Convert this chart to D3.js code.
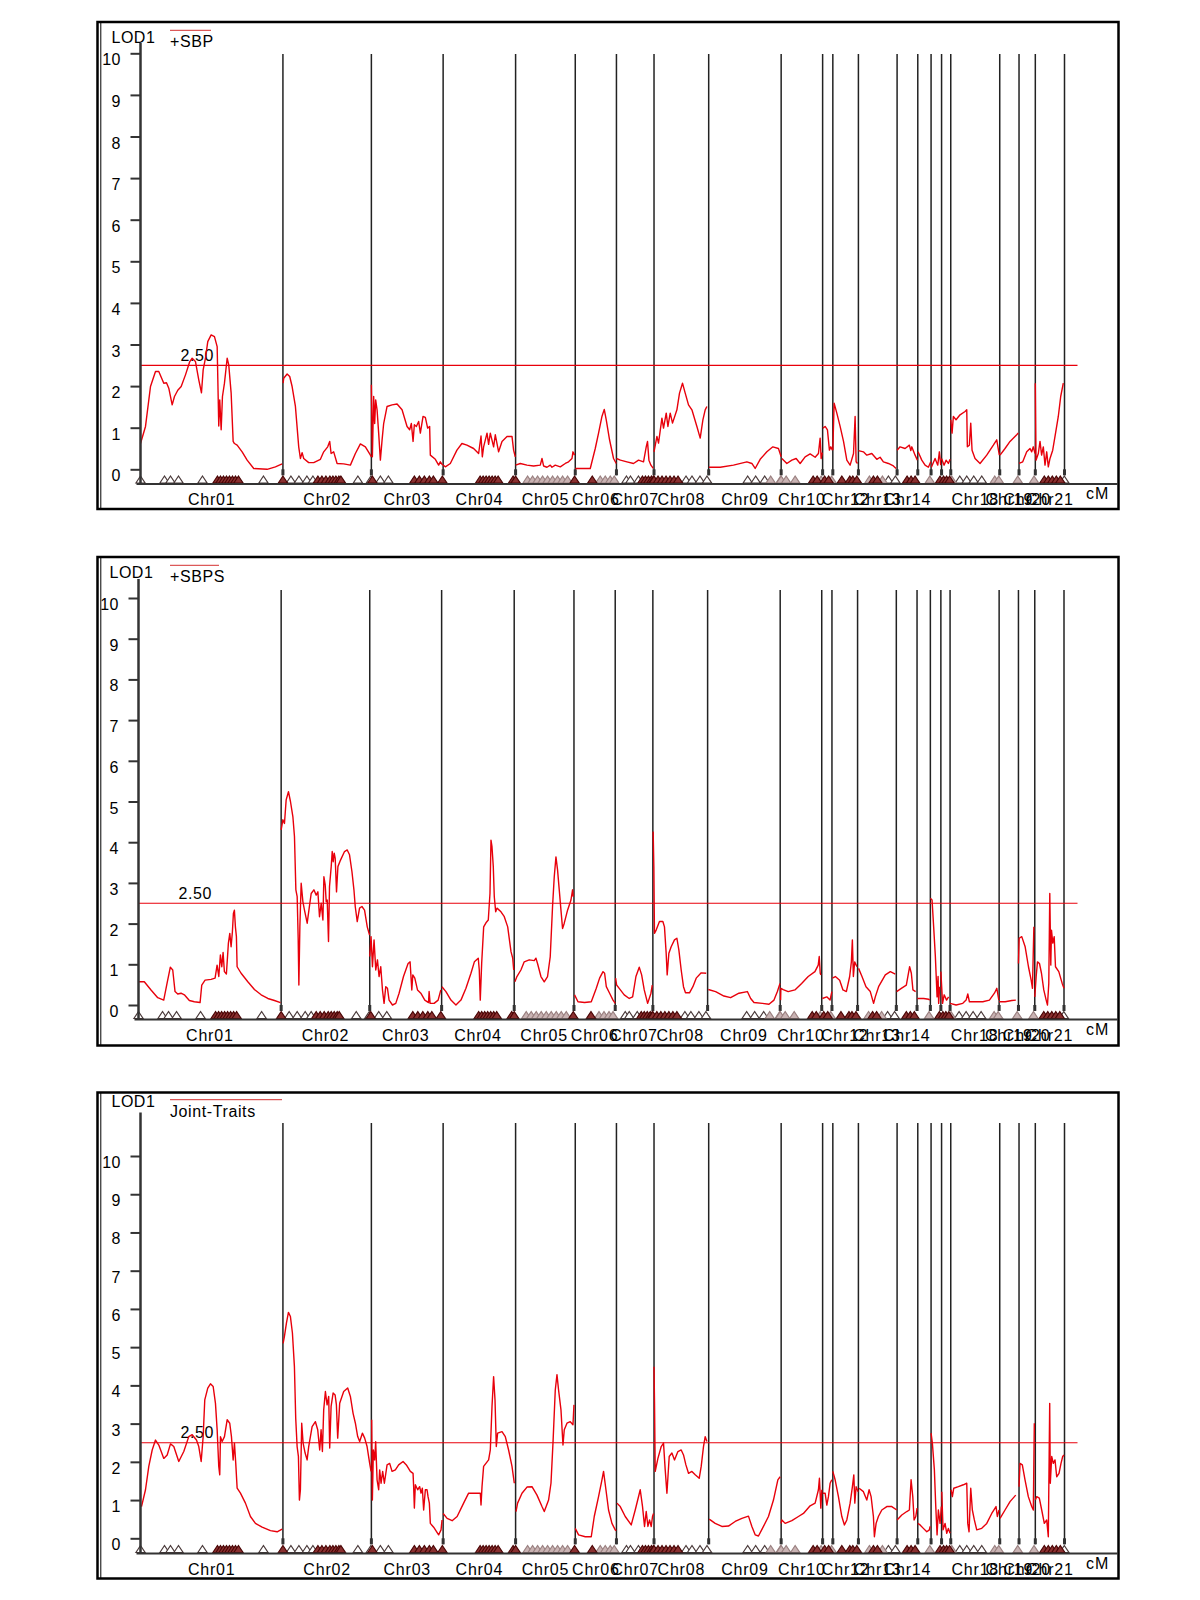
<!DOCTYPE html>
<html>
<head>
<meta charset="utf-8">
<script src="https://cdn.jsdelivr.net/npm/d3@7"></script>
<style>
  body { margin: 0; background: #fff; }
  text { font-family: "Liberation Sans", Arial, sans-serif; fill: #000; }
</style>
</head>
<body>
<svg id="vis-svg" width="1200" height="1600"></svg>
<script>
// chromosome map (cM)
const chromosomes = ['Chr01','Chr02','Chr03','Chr04','Chr05','Chr06','Chr07','Chr08','Chr09','Chr10',
  'Chr11','Chr12','Chr13','Chr14','Chr15','Chr16','Chr17','Chr18','Chr19','Chr20','Chr21'];
const chrLengths = [142.5, 88.5, 71.8, 72.5, 59.7, 41.2, 37.6, 54.7, 72.5, 41.5,
  10.2, 25.6, 38.7, 20.7, 13.3, 10.5, 9.2, 49.0, 19.3, 16.3, 29.2];
// labels the program actually printed (the crowded ones were skipped)
const shownLabels = ['Chr01','Chr02','Chr03','Chr04','Chr05','Chr06','Chr07','Chr08','Chr09','Chr10',
  'Chr12','Chr13','Chr14','Chr18','Chr19','Chr20','Chr21'];
const yTicks = [0, 1, 2, 3, 4, 5, 6, 7, 8, 9, 10];
const threshold = 2.5;

// marker positions [chromosome index, cM]
const markersOpen = [[0,0],[0,24],[0,30],[0,38],[0,62],[0,123],[1,8],[1,16],[1,24],[1,30],[1,75],[1,88],
  [2,9],[2,17],[6,10],[6,14],[6,22],[7,32],[7,38],[7,46],[7,53],[8,39],[8,47],[8,56],[12,30],[12,37],
  [17,9],[17,16],[17,23],[17,31],[20,29]];
const markersDark = [[0,77],[0,80],[0,83],[0,86],[0,89],[0,92],[0,95],[0,98],
  [1,0],[1,35],[1,39],[1,43],[1,47],[1,50],[1,53],[1,56],[1,58],
  [2,1],[2,43],[2,48],[2,53],[2,58],[2,62],[2,71],
  [3,37],[3,40],[3,43],[3,46],[3,49],[3,52],[3,55],[3,70],
  [4,0],[4,59],[5,17],[6,26],[6,29],[6,32],[6,35],[6,37],
  [7,0],[7,4],[7,8],[7,12],[7,16],[7,20],[7,24],[9,32],[9,36],[10,2],[10,6],
  [11,9],[11,17],[11,20],[11,24],[12,15],[12,19],[13,10],[13,14],[13,18],[15,9],
  [16,2],[16,5],[16,8],[20,9],[20,13],[20,17],[20,21],[20,25]];
const markersGray = [[4,12],[4,17],[4,22],[4,27],[4,32],[4,37],[4,42],[4,47],[4,52],
  [5,25],[5,30],[5,35],[5,39],[8,62],[8,72],[9,0],[9,5],[9,14],[9,40],[10,9],
  [12,11],[12,24],[14,12],[17,1],[17,44],[17,48],[18,18],[19,15]];

// LOD profiles, one list of [cM, LOD] per chromosome
const lodSBP = [
  [[0,0.62],[5,1.03],[10,1.99],[15,2.35],[18.3,2.35],[23.3,2.07],[26,2.08],[28.3,1.95],[31.7,1.55],[34,1.75],[37.3,1.9],[40.7,1.99],[45,2.27],[49.3,2.59],[51.7,2.67],[55,2.59],[58.3,2.15],[61,1.84],[62.7,2.39],[65,2.67],[67.3,3.07],[70.7,3.23],[74,3.19],[76.7,2.95],[78.3,1.04],[79.3,1.67],[80.7,0.95],[82,1.75],[84,2.07],[86.7,2.67],[88.3,2.51],[90.7,1.83],[92.7,0.67],[94,0.62],[96.7,0.58],[101.7,0.42],[106.7,0.22],[113.3,0.02],[126.7,0],[135,0.06],[141.7,0.13]],
  [[0.2,2.07],[0.8,2.19],[4.2,2.29],[6.8,2.23],[9.2,1.99],[12.5,1.51],[15.8,0.54],[17.5,0.26],[19.2,0.4],[20.8,0.26],[25.8,0.16],[30.8,0.16],[37.5,0.24],[40.8,0.42],[44.8,0.54],[46.8,0.67],[48.2,0.38],[50.8,0.42],[54.2,0.14],[60.8,0.13],[67.5,0.1],[72.5,0.38],[77.5,0.61],[82.5,0.54],[86.8,0.37],[88.5,0.3]],
  [[0,2.03],[1,0.3],[2.3,1.75],[3.3,1.1],[4.3,1.67],[5.7,1.43],[7.3,0.87],[9,0.22],[10.7,0.7],[12.3,1.1],[15.7,1.51],[20.7,1.55],[25.7,1.57],[30.7,1.43],[35.7,1.03],[38.3,0.95],[40,1.1],[41.7,0.67],[43,1.07],[45,1.03],[47.3,1.15],[49,0.87],[51.7,1.27],[54,1.25],[56.3,0.99],[58.3,1.03],[59,0.34],[64,0.24],[67.3,0.1],[69,0.18],[71.3,0.1]],
  [[0,0.1],[2.2,0.06],[7.2,0.14],[13.8,0.46],[18.8,0.62],[23.8,0.58],[30.5,0.5],[35.5,0.38],[37.9,0.8],[39.2,0.3],[40.5,0.54],[43.9,0.87],[45.5,0.6],[47.2,0.87],[50.5,0.54],[52.2,0.83],[55.5,0.42],[58.9,0.67],[63.9,0.79],[68.9,0.79],[70.5,0.46],[72.2,0.3]],
  [[0,0.1],[4.7,0.14],[11.4,0.1],[18,0.08],[24.7,0.1],[26.4,0.26],[28,0.08],[31.4,0.05],[34.7,0.1],[36.4,0.05],[39.7,0.1],[44.7,0.06],[49.7,0.14],[53,0.18],[56.4,0.26],[57.4,0.42],[59,0.34]],
  [[0,0.02],[15,0.02],[20,0.5],[23.3,0.87],[26.7,1.27],[29,1.44],[31,1.19],[34.3,0.71],[38.3,0.26],[41,0.14]],
  [[0,0.26],[4,0.22],[10.5,0.18],[17.1,0.14],[22.1,0.22],[27.1,0.18],[29.8,0.54],[31.1,0.67],[32.5,0.22],[34.5,0.1],[36.8,0.02]],
  [[0,0.42],[2.9,0.79],[4.5,0.63],[7.9,1.23],[9.5,0.99],[12.2,1.35],[13.9,1.03],[16.2,1.35],[18.5,1.11],[22.9,1.43],[25.5,1.83],[28.5,2.07],[31.2,1.83],[34.5,1.55],[37.9,1.43],[42.9,1.03],[46.2,0.75],[48.9,1.19],[51.2,1.43],[52.9,1.51]],
  [[0.2,0.05],[11.5,0.05],[24.8,0.1],[38.2,0.18],[43.2,0.14],[46.5,0.02],[51.5,0.24],[58.2,0.42],[64.2,0.54],[69.8,0.5],[72.5,0.3]],
  [[0.7,0.26],[5.7,0.14],[10.7,0.22],[15,0.26],[19,0.14],[24,0.3],[29,0.37],[34,0.29],[37.3,0.38],[39,0.75],[40,0.26],[41.2,0.4]],
  [[0.2,0.99],[2.5,1.03],[4.8,0.95],[6.8,0.46],[8.2,0.54],[9.8,0.46]],
  [[0,0.46],[1.3,1.59],[4,1.35],[7.3,1.03],[10.7,0.67],[14,0.22],[17.3,0.1],[20.7,0.38],[22.3,1.27],[23.3,0.18],[24.7,0.14]],
  [[0,0.45],[5,0.42],[8.4,0.34],[13.4,0.38],[18.4,0.24],[21.7,0.29],[25,0.18],[30,0.14],[35,0.08],[37.7,0.02]],
  [[0,0.46],[3,0.54],[8,0.5],[12.3,0.58],[13.7,0.45],[14.7,0.54],[18,0.34],[20.3,0.22]],
  [[0.3,0.42],[4,0.22],[7.3,0.1],[10.6,0.05],[13,0.18]],
  [[0.3,0.05],[4,0.26],[6.7,0.1],[8.3,0.42],[9.7,0.1]],
  [[0,0.26],[2.5,0.1],[4.5,0.22],[6.8,0.14],[8.5,0.24]],
  [[0,1.19],[1.3,0.87],[2.6,1.27],[5.3,1.19],[9.3,1.31],[14.3,1.39],[16,1.43],[16.6,0.54],[18.6,0.58],[20,1.11],[21.3,0.46],[24.3,0.26],[29.3,0.14],[36,0.34],[42.6,0.58],[46,0.71],[48.6,0.34]],
  [[0.3,0.34],[5.3,0.5],[10.3,0.67],[17,0.83],[18.6,0.87]],
  [[0,0.14],[3.7,0.18],[7.7,0.42],[11,0.5],[12.7,0.42],[14.3,0.54],[16,0.38]],
  [[0,2.07],[0.7,0.22],[3,0.38],[4.7,0.67],[6.3,0.34],[8,0.54],[9.7,0.1],[11.4,0.42],[13,0.06],[14.7,0.26],[17.4,0.46],[19.7,0.79],[23,1.27],[25.4,1.75],[28,2.07]]
];

const lodSBPS = [
  [[0,0.57],[5.8,0.57],[12.5,0.37],[19.2,0.18],[25.2,0.12],[28.5,0.53],[31.8,0.93],[34.2,0.86],[36.5,0.33],[39.2,0.27],[42.5,0.29],[45.8,0.25],[50.8,0.11],[55.8,0.08],[61.5,0.06],[63.2,0.49],[66.5,0.61],[72.5,0.63],[76.5,0.66],[78.5,0.98],[80.2,0.7],[81.8,1.23],[83.2,0.94],[84.5,1.29],[85.8,0.82],[87.8,0.76],[89.8,1.52],[91.2,1.76],[92.5,1.43],[93.8,1.8],[94.8,2.25],[95.8,2.33],[96.8,1.92],[97.8,1.68],[98.5,0.94],[102.5,0.78],[109.2,0.57],[115.8,0.38],[122.5,0.25],[129.2,0.16],[135.8,0.11],[141.8,0.06]],
  [[0,4.3],[1.7,4.55],[3.3,4.46],[5,5.04],[7.3,5.24],[9.3,5.0],[11.7,4.63],[13.3,4.14],[14.7,2.83],[16,2.66],[17,1.64],[17.7,0.49],[18.7,1.92],[20,2.99],[21.7,2.54],[23.3,2.33],[26,2.01],[28,2.38],[30,2.74],[32.7,2.83],[35,2.7],[36.7,2.78],[38.3,2.17],[40,2.5],[41.7,2.09],[42.7,3.15],[44,2.95],[45,2.54],[46,2.58],[47.3,1.56],[48.3,2.91],[50,3.4],[51,3.77],[52,3.52],[53,3.73],[54,3.6],[55.3,2.78],[56.7,3.4],[59.3,3.56],[63.3,3.77],[66,3.81],[68.3,3.69],[70.7,3.28],[72.7,2.83],[74,2.42],[76,2.05],[78.3,2.38],[80.7,2.42],[83.3,2.33],[86,1.92],[88.3,1.72]],
  [[0,1.19],[1.3,1.68],[2.7,0.94],[4.3,1.6],[6,0.86],[7.7,1.11],[9.3,0.7],[11,0.94],[12.7,0.37],[14.3,0.04],[16,0.45],[17.7,0.41],[19.3,0.12],[22.7,0],[26,0.04],[29.3,0.29],[33.7,0.7],[38.3,1.02],[40.3,1.06],[42,0.37],[43,0.74],[45,0.66],[47.7,0.37],[51,0.29],[55,0.12],[58.7,0.06],[59.3,0.33],[60.3,0.04],[64.3,0.04],[68.3,0.12],[71,0.37]],
  [[0.3,0.45],[4.3,0.33],[9.3,0.12],[14.3,0],[19.3,0.12],[24.3,0.41],[29.3,0.78],[32.7,1.06],[36.6,1.15],[37.6,0.86],[38.6,0.12],[40,1.02],[42,1.92],[44.3,2.02],[46.6,2.09],[48.3,2.74],[49.3,4.05],[50.3,3.89],[51.6,3.4],[52.6,2.66],[54,2.29],[55.3,2.38],[59.3,2.29],[62.6,2.17],[66,1.92],[69.3,1.31],[71,1.15],[72,0.86]],
  [[0.7,0.57],[2.7,0.7],[6.7,0.86],[10,1.06],[15,1.11],[20,1.09],[21.7,1.15],[23.3,1.02],[26.7,0.7],[30,0.57],[33.3,0.7],[36,1.19],[38.3,2.42],[40,3.15],[41.7,3.64],[43.3,3.32],[45,2.83],[46.7,2.33],[48.3,1.88],[50,2.01],[53.3,2.33],[56.7,2.58],[58.3,2.83],[59,2.66]],
  [[0.6,0.25],[4,0.08],[10.6,0.06],[17.3,0.08],[22.3,0.41],[25.6,0.66],[29,0.82],[30.6,0.78],[32.3,0.45],[35.6,0.29],[39,0.12],[41.2,0.04]],
  [[0.4,0.66],[1.4,0.49],[4,0.41],[9,0.25],[14,0.16],[17.4,0.2],[20.7,0.7],[24,0.93],[26.4,0.74],[29,0.37],[32.4,0.04],[35.7,0.29],[37,0.49]],
  [[0.3,4.26],[1,3.4],[1.6,1.76],[3.3,1.84],[6.6,2.05],[10,2.05],[11.6,1.92],[13.3,1.27],[14.3,0.74],[16,1.27],[18.3,1.43],[21.6,1.6],[24,1.64],[26,1.35],[28.3,0.86],[30.6,0.45],[32.6,0.3],[36.6,0.3],[40,0.45],[43.3,0.66],[48.3,0.79],[53.3,0.78]],
  [[0.7,0.38],[8,0.33],[16.3,0.22],[23,0.18],[31.3,0.29],[39.7,0.33],[43,0.16],[46.3,0.06],[54.7,0.04],[61.3,0.02],[66.3,0.12],[69.7,0.33],[72.3,0.53]],
  [[0.4,0.12],[0.7,0.41],[3,0.38],[8,0.33],[14.7,0.37],[21.4,0.53],[28,0.7],[34.7,0.82],[38,0.98],[39,1.19],[40,0.78],[40.7,0.74]],
  [[0.6,0.16],[5,0.2],[8.3,0.12],[10.1,0.33]],
  [[0.4,0.66],[3.4,0.7],[7.7,0.61],[11,0.37],[14.4,0.33],[17.7,0.7],[19.4,1.06],[20.4,1.6],[21.4,0.7],[22.7,1.06],[25,0.94]],
  [[1,0.9],[4.4,0.7],[8.4,0.45],[12.7,0.33],[16,0.04],[17.7,0.2],[21,0.45],[27.7,0.74],[32.7,0.82],[37.7,0.76]],
  [[0.3,0.33],[5,0.41],[10,0.49],[13.3,0.94],[15,0.78],[16.6,0.37],[19.3,0.33]],
  [[0.3,0.16],[6.6,0.16],[11.6,0.14],[12.6,0.12]],
  [[0,2.62],[1.7,2.58],[3.3,1.92],[5,1.19],[6.7,0.2],[7.7,0.7],[8.3,0.04],[9.3,0.45]],
  [[0,0.82],[1.7,0.04],[3.3,0.25],[5.7,0.12],[7.7,0.2]],
  [[0,0.04],[6,0],[12.7,0.04],[16,0.12],[17.7,0.27],[19.3,0.08],[26,0.08],[32.7,0.08],[39.3,0.12],[44.3,0.29],[46.7,0.41],[48.7,0.12]],
  [[0,0.08],[6,0.08],[12.7,0.11],[16.7,0.12]],
  [[0,1.02],[0.7,1.64],[3.3,1.68],[6.7,1.43],[10,0.94],[12.7,0.61],[14,0.41],[15.4,1.92]],
  [[0,0.2],[1.4,0.7],[2.7,1.06],[4.7,1.02],[6.7,0.78],[9,0.37],[11.4,0.12],[12.7,0],[14,0.53],[15,2.74],[16,0.98],[16.7,1.84],[18,1.52],[19.4,1.68],[20.7,0.94],[24,0.82],[27.4,0.53],[29.2,0.41]]
];

const lodJoint = [
  [[1,0.83],[5,1.27],[8.3,1.88],[11.7,2.31],[15,2.57],[18.3,2.44],[23.3,2.09],[26.7,2.18],[30,2.47],[33.3,2.4],[38.3,2.01],[43.3,2.27],[48.3,2.66],[51.7,2.71],[56,2.57],[58.3,2.4],[60.7,2.01],[62.7,2.66],[64.3,3.62],[67.3,3.93],[70,4.04],[72.7,3.97],[75,3.53],[76.7,2.84],[78.3,1.88],[79.3,1.66],[80,2.66],[81.7,2.53],[84,2.66],[86.7,3.1],[89.3,3.01],[91,2.66],[92.7,2.05],[94,2.49],[95.3,1.96],[96.7,1.31],[100,1.18],[105,0.92],[110,0.57],[115,0.39],[121.7,0.29],[130,0.2],[136.7,0.17],[141.7,0.24]],
  [[0.2,5.1],[1.5,5.28],[3.5,5.63],[5.5,5.91],[7.5,5.8],[9.5,5.37],[11.5,4.49],[12.8,3.14],[14.2,2.4],[15.5,2.14],[16.5,1.0],[17.5,1.27],[18.8,3.01],[20.2,2.49],[22.2,2.23],[24.2,2.05],[25.8,2.4],[29.2,2.92],[32.5,3.05],[34.8,2.84],[36.8,2.31],[38.2,2.84],[39.5,2.27],[40.8,3.36],[42.5,3.84],[44.2,3.49],[45.8,3.71],[46.8,2.36],[48.2,3.45],[50.2,3.8],[52.2,3.75],[53.5,3.49],[54.8,2.62],[56.8,3.53],[60.8,3.84],[64.8,3.93],[67.5,3.71],[70.2,3.27],[72.5,3.01],[74.8,2.66],[76.8,2.53],[79.5,2.75],[81.8,2.62],[84.2,2.4],[86.8,1.96],[88.2,1.75]],
  [[0.3,3.1],[1,1.0],[2,2.31],[3.3,2.05],[4.3,2.53],[5.7,1.53],[7.3,1.27],[8.3,1.79],[9.7,1.44],[11.3,1.75],[13,1.44],[15.7,1.92],[18.3,1.96],[20.7,1.75],[24,1.79],[27.3,1.92],[31.7,2.01],[35,1.92],[39,1.75],[41.7,1.7],[42.3,1.35],[43,0.79],[44,1.4],[46.3,1.27],[48.3,1.35],[49.7,1.18],[51,1.31],[52.3,0.74],[54,1.27],[55.7,1.27],[56.7,1.09],[58,0.92],[59,0.39],[62.3,0.29],[67.3,0.09],[69.7,0.22],[70.7,0.48]],
  [[0,0.65],[4,0.52],[9,0.46],[14,0.57],[20.5,0.92],[25.5,1.18],[32.2,1.18],[37.2,1.18],[37.9,0.87],[38.9,1.35],[40.5,1.88],[45.5,2.05],[47.2,2.31],[48.9,3.45],[50.5,4.23],[51.9,3.62],[53.2,2.4],[54.5,2.75],[58.9,2.79],[62.2,2.66],[65.5,2.31],[68.9,1.88],[71.2,1.44]],
  [[0.4,0.7],[2,0.92],[6.4,1.18],[11.4,1.34],[16.4,1.35],[21.4,1.13],[26.4,0.83],[28.7,0.7],[33,1.0],[35.4,1.44],[37.4,2.49],[39.7,3.88],[41.4,4.28],[43,3.88],[45.4,3.36],[47.4,2.44],[48.7,2.84],[51.4,3.01],[54.7,3.05],[57.4,2.97],[58.4,3.49]],
  [[0,0.26],[3.3,0.09],[10,0.04],[16,0.04],[19,0.57],[23.3,1.09],[26.7,1.53],[28.3,1.75],[30.7,1.27],[33.3,0.74],[36.7,0.39],[40,0.22],[41,0.2]],
  [[0.5,0.92],[3.8,0.83],[8.8,0.57],[14.8,0.35],[18.8,0.74],[23.8,1.27],[26.1,0.83],[28.1,0.31],[29.8,0.7],[31.5,0.31],[33.1,0.48],[34.8,0.31],[36.1,0.57],[37.1,0.65]],
  [[0,4.49],[0.5,3.53],[1.2,1.75],[3.9,2.09],[7.2,2.4],[9.5,2.49],[11.2,1.79],[12.9,1.18],[15.2,2.14],[17.9,2.23],[20.5,2.05],[23.9,2.27],[27.2,2.31],[29.5,2.18],[31.9,1.92],[34.5,1.7],[37.9,1.75],[41.2,1.66],[45.2,1.57],[47.2,1.88],[49.5,2.4],[51.2,2.66],[52.9,2.53]],
  [[0.5,0.5],[6.5,0.39],[13.2,0.31],[19.8,0.32],[26.5,0.44],[33.2,0.52],[39.8,0.58],[43.2,0.31],[46.5,0.09],[49.8,0.06],[54.8,0.31],[59.8,0.57],[64.8,1.0],[69.2,1.53],[71.5,1.61]],
  [[0,0.39],[0.7,0.48],[4,0.39],[10.7,0.46],[17.3,0.57],[22.3,0.65],[29,0.85],[34,0.92],[37.3,1.27],[38.3,1.57],[39.7,0.79],[40.7,1.27]],
  [[0.2,1.18],[2.5,1.18],[4.2,0.87],[5.8,1.09],[7.5,1.44],[9.2,1.53]],
  [[0,1.75],[2.3,1.53],[5.6,1.09],[9,0.57],[11.6,0.35],[14,0.48],[17.3,0.92],[19.6,1.35],[21,1.66],[22,0.92],[23.3,1.35],[25.3,1.22]],
  [[0.7,1.31],[5,1.22],[8.4,1.0],[10.7,1.27],[12.7,1.09],[15,0.57],[16,0.04],[17.7,0.39],[20,0.57],[23.4,0.74],[28.4,0.83],[33.4,0.83],[38.4,0.74]],
  [[0,0.48],[4.7,0.61],[9.7,0.7],[12.3,0.74],[14,1.53],[15.7,1.09],[17,0.48],[18.7,0.57],[20,0.79]],
  [[0,0.39],[2.3,0.35],[5.6,0.26],[9,0.17],[11.6,0.22],[12.3,0.31]],
  [[0,2.75],[1.3,2.49],[3.3,1.79],[4.7,0.83],[6,0.09],[7.3,0.74],[9,0.39],[10.3,0.83]],
  [[0.2,1.22],[1.5,0.22],[3.5,0.39],[5.2,0.13],[6.8,0.26],[8.5,0.13]],
  [[0.3,1.27],[1.6,1.09],[3,1.31],[7.6,1.35],[12.6,1.4],[16,1.44],[17,0.39],[18.3,0.17],[20,1.31],[21.6,0.74],[23.6,0.48],[26,0.22],[31,0.26],[36,0.39],[41,0.65],[45.3,0.83],[46.6,0.57],[48.3,0.74]],
  [[0.3,0.52],[5.3,0.74],[10.3,0.96],[16,1.13]],
  [[0,1.35],[1,1.96],[3.3,1.92],[6,1.53],[9.3,1.09],[12.7,0.83],[14.3,0.74],[15.3,3.01]],
  [[0,1.0],[1.4,1.09],[4,1.05],[6.4,0.74],[9,0.39],[11.4,0.48],[13,0.04],[14.4,3.53],[15,1.44],[16.4,2.14],[18,1.96],[19.7,2.05],[21.4,1.61],[23.7,1.7],[25.7,1.96],[27.4,2.14],[28.7,2.18]]
];

// panel layout
const panels = [
  { title: '+SBP', data: lodSBP, top: 22, bottom: 509, axisTop: 43, chrTop: 54,
    y0: 469.3, y10: 53.3, axisY: 484, x0: 140.5, x1: 1064.5, legendW: 41 },
  { title: '+SBPS', data: lodSBPS, top: 557, bottom: 1045.5, axisTop: 579, chrTop: 590,
    y0: 1005, y10: 598, axisY: 1019.5, x0: 138.5, x1: 1064, legendW: 49 },
  { title: 'Joint-Traits', data: lodJoint, top: 1092.5, bottom: 1578.5, axisTop: 1112.5, chrTop: 1123,
    y0: 1538.3, y10: 1156, axisY: 1553.5, x0: 140.5, x1: 1064.5, legendW: 112 }
];

const svg = d3.select('#vis-svg');
const offsets = Array.from(d3.cumsum([0].concat(chrLengths)));
const totalCM = offsets[offsets.length - 1];
const red = '#e8000b';

panels.forEach((p, pi) => {
  const g = svg.append('g');
  const x = d3.scaleLinear().domain([0, totalCM]).range([p.x0, p.x1]);
  const y = d3.scaleLinear().domain([0, 10]).range([p.y0, p.y10]);

  // frame
  g.append('rect')
    .attr('x', 97.5).attr('y', p.top)
    .attr('width', 1021).attr('height', p.bottom - p.top)
    .attr('fill', 'none').attr('stroke', '#000').attr('stroke-width', 2.5);
  g.append('line')
    .attr('x1', 100.8).attr('x2', 100.8).attr('y1', p.top).attr('y2', p.bottom)
    .attr('stroke', '#000').attr('stroke-width', 1);

  // chromosome separators
  offsets.slice(1).forEach(o => {
    g.append('line')
      .attr('x1', x(o)).attr('x2', x(o))
      .attr('y1', p.chrTop).attr('y2', p.y0 + 6)
      .attr('stroke', '#222').attr('stroke-width', 1.5);
    g.append('rect')
      .attr('x', x(o) - 1.5).attr('y', p.y0).attr('width', 3).attr('height', 6)
      .attr('fill', '#333');
  });

  // threshold
  g.append('line')
    .attr('x1', p.x0).attr('x2', 1077.5)
    .attr('y1', y(threshold)).attr('y2', y(threshold))
    .attr('stroke', red).attr('stroke-width', 1.2);
  g.append('text')
    .attr('x', p.x0 + 40).attr('y', y(threshold) - 4.5)
    .style('font-size', '16px').style('letter-spacing', '0.6px')
    .text(threshold.toFixed(2));

  // markers
  const tri = (cx, by) => `M${cx - 4.6},${by} L${cx},${by - 7} L${cx + 4.6},${by} Z`;
  const drawMarkers = (list, fill, stroke) => {
    g.selectAll(null).data(list).enter().append('path')
      .attr('d', d => tri(x(offsets[d[0]] + d[1]), p.axisY - 1))
      .attr('fill', fill).attr('stroke', stroke).attr('stroke-width', 1.2);
  };
  drawMarkers(markersOpen, '#fff', '#4a3a3a');
  drawMarkers(markersGray, '#c9b3b3', '#9a8080');
  drawMarkers(markersDark, '#8a3030', '#4a0505');

  // LOD curves
  const line = d3.line()
    .x(d => d[0])
    .y(d => y(d[1]));
  p.data.forEach((pts, ci) => {
    g.append('path')
      .datum(pts.map(d => [x(offsets[ci] + d[0]), d[1]]))
      .attr('d', line)
      .attr('fill', 'none').attr('stroke', red).attr('stroke-width', 1.4)
      .attr('stroke-linejoin', 'round');
  });

  // y axis
  const axis = d3.axisLeft(y).tickValues(yTicks).tickSize(10).tickPadding(9.5).tickFormat(d3.format('d'));
  const ag = g.append('g').attr('transform', `translate(${p.x0},0)`).call(axis);
  ag.select('.domain').remove();
  ag.selectAll('.tick line').attr('stroke', '#333').attr('stroke-width', 2);
  ag.selectAll('.tick text')
    .attr('dy', '0.72em')
    .style('font-family', '"Liberation Sans", Arial, sans-serif')
    .style('font-size', '16px').style('letter-spacing', '0.5px').attr('fill', '#000');
  g.append('line')
    .attr('x1', p.x0).attr('x2', p.x0).attr('y1', p.axisTop).attr('y2', p.axisY)
    .attr('stroke', '#333').attr('stroke-width', 2.5);

  // x axis baseline
  g.append('line')
    .attr('x1', p.x0 - 4).attr('x2', 1118).attr('y1', p.axisY).attr('y2', p.axisY)
    .attr('stroke', '#333').attr('stroke-width', 2);

  // chromosome labels
  chromosomes.forEach((c, ci) => {
    if (!shownLabels.includes(c)) return;
    g.append('text')
      .attr('x', x(offsets[ci] + chrLengths[ci] / 2))
      .attr('y', p.axisY + 21)
      .attr('text-anchor', 'middle')
      .style('font-size', '16px').style('letter-spacing', '0.8px')
      .text(c);
  });
  g.append('text')
    .attr('x', 1086).attr('y', p.axisY + 15)
    .style('font-size', '16px').style('letter-spacing', '1px')
    .text('cM');

  // legend
  const lodY = pi === 2 ? p.top + 14.8 : p.top + 21.3;
  const titleY = pi === 2 ? p.top + 24.2 : p.top + 25.3;
  g.append('text')
    .attr('x', p.x0 - 29).attr('y', lodY)
    .style('font-size', '16px').style('letter-spacing', '0.5px')
    .text('LOD1');
  g.append('line')
    .attr('x1', 170).attr('x2', 170 + p.legendW)
    .attr('y1', titleY - 17).attr('y2', titleY - 17)
    .attr('stroke', '#d43030').attr('stroke-width', 1);
  g.append('text')
    .attr('x', 170).attr('y', titleY)
    .style('font-size', '16px').style('letter-spacing', '0.6px')
    .text(p.title);
});
</script>
</body>
</html>
